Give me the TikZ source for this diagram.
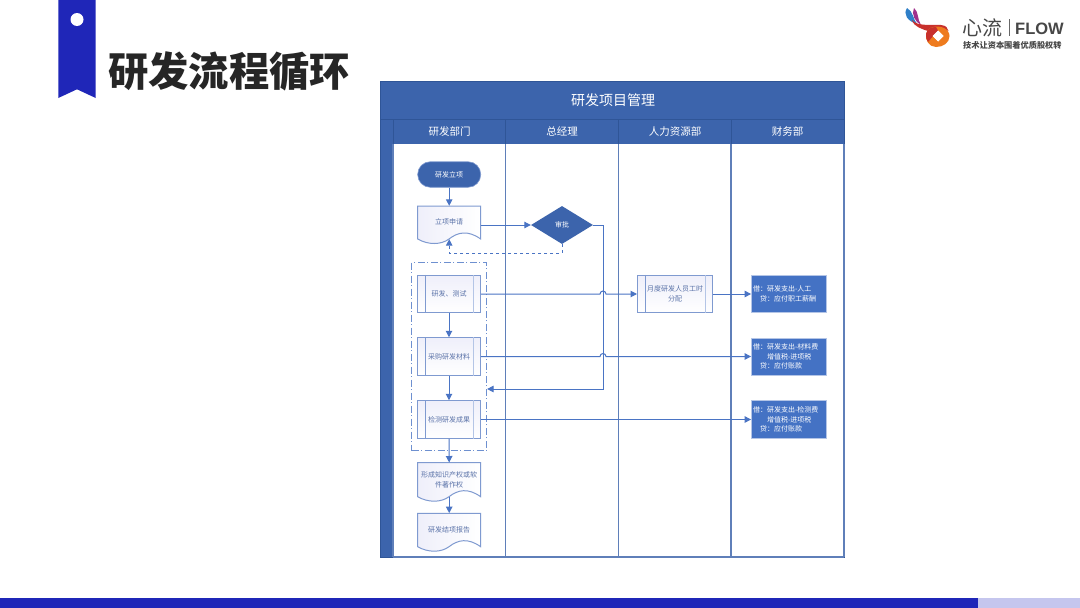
\documentclass[tikz,border=0pt]{standalone}
\usepackage{fontspec}
\setmainfont{Noto Sans CJK SC}
\newfontfamily\latinf{Liberation Sans}
\usetikzlibrary{arrows.meta,calc,shapes.geometric}
\definecolor{band}{HTML}{3C64AC}
\definecolor{bandline}{HTML}{2F5597}
\definecolor{lane}{HTML}{5F7FB9}
\definecolor{flow}{HTML}{4A74C4}
\definecolor{flowfill}{HTML}{4472C4}
\definecolor{edge}{HTML}{7F9AD0}
\definecolor{edgelight}{HTML}{B4C5E6}
\definecolor{nodetext}{HTML}{5A72A8}
\definecolor{ribbon}{HTML}{1F26B8}
\definecolor{ribbonlight}{HTML}{C5C6EE}
\definecolor{dark}{HTML}{262626}
\definecolor{logoblue}{HTML}{2F7FC8}
\definecolor{logopurple}{HTML}{A0308C}
\definecolor{logored}{HTML}{C8302C}
\definecolor{logoorange}{HTML}{EE7B1E}
\newcommand{\fs}[1]{\fontsize{#1}{#1}\selectfont}
\tikzset{
  flowline/.style={draw=flow,line width=1pt,-{Triangle[length=6.5pt,width=6.5pt]}},
  dashline/.style={flowline,dashed},
  lanehead/.style={text=white,font=\fs{10.5}},
  boxtext/.style={text=nodetext,font=\fs{7}\linespread{1.45}\selectfont,align=center,inner sep=0pt},
  procbox/.style={boxtext,draw=edge,line width=1pt,minimum width=63pt,minimum height=37.5pt,
     shading=axis,left color=ribbonlight!28!white,right color=white,shading angle=0},
  blackbox/.style={fill=flowfill,draw=edgelight,line width=0.8pt,text=white,minimum width=75pt,minimum height=37.5pt,
     font=\fs{7}\linespread{1.35}\selectfont,align=left,inner sep=0pt,text width=72pt},
  docfill/.style={draw=edge,line width=1pt,left color=ribbonlight!28!white,right color=white},
}
\newcommand{\procnode}[4]{%
  \node[procbox,minimum width=#4] (#1) at (#2) {#3};
  \draw[edge,line width=0.8pt] ($(#1.north west)+(8,0)$) -- ($(#1.south west)+(8,0)$);
  \draw[edgelight,line width=1.6pt] ($(#1.north east)+(-7.5,0)$) -- ($(#1.south east)+(-7.5,0)$);
}
\newcommand{\docnode}[4]{%
  \path[docfill,draw] (417.7,#2) -- (480.7,#2) -- (480.7,#2+#3)
     .. controls (468,#2+#3-9) and (458,#2+#3-7) .. (449,#2+#3)
     .. controls (441,#2+#3+6) and (428,#2+#3+6) .. (417.7,#2+#3) -- cycle;
  \node[boxtext,minimum width=63pt,minimum height=#3 pt] (#1) at (449.2,#2+#3/2) {\raisebox{2pt}{\parbox{60pt}{\centering #4}}};
}
\begin{document}
\begin{tikzpicture}[x=1pt,y=-1pt]
\useasboundingbox (0,0) rectangle (1080,608);
\fill[white] (0,0) rectangle (1080,608);
% ribbon and title
\fill[ribbon] (58.3,0) -- (95.7,0) -- (95.7,98) -- (77,89.3) -- (58.3,98) -- cycle;
\fill[white] (77,19.5) circle (6.5);
\node[text=dark,font=\fs{40.3}\bfseries,anchor=west,inner sep=0pt] (title) at (108,71) {研发流程循环};
% bottom bar
\fill[ribbon] (0,598) rectangle (978,608);
\fill[ribbonlight] (978,598) rectangle (1080,608);
% logo
\fill[logopurple] (914,8) .. controls (919,12) and (917,19) .. (921,25) .. controls (915,22) and (911,14) .. (914,8) -- cycle;
\fill[logoblue] (907,8) .. controls (903,14) and (907,21) .. (917,24) .. controls (913,19) and (913,11) .. (907,8) -- cycle;
\fill[logored] (912,20) .. controls (918,27) and (930,24) .. (941,25) .. controls (946,25.5) and (948,28) .. (948.5,31) .. controls (941,27) and (933,28) .. (928,31) .. controls (922,29) and (914,27) .. (912,20) -- cycle;
\fill[logoorange,even odd rule] (931,27.5) .. controls (941,24.5) and (949.5,29) .. (949.5,36) .. controls (949.5,43) and (943,47) .. (936,47) .. controls (929,47) and (925,40) .. (926,34) .. controls (926.5,31) and (928,29) .. (931,27.5) -- cycle
  (938,30.5) -- (943.5,36) -- (938,41.5) -- (932.5,36) -- cycle;
\fill[logored] (931,27.5) .. controls (928,29) and (926.5,31) .. (926,34) .. controls (925.7,37) and (926.5,40) .. (928,42) -- (933,36) -- (938,30.5) -- (936,27) -- cycle;
\fill[white] (938,30.5) -- (943.5,36) -- (938,41.5) -- (932.5,36) -- cycle;
\node[text=dark!85,font=\fs{20},anchor=west,inner sep=0pt] (logoa) at (962,28) {心流};
\fill[dark!70] (1008.6,19) rectangle (1009.4,36);
\node[text=dark!85,font=\fs{16.5}\latinf\bfseries,anchor=west,inner sep=0pt] (logob) at (1015,28.5) {FLOW};
\node[text=dark!85,font=\fs{8.2}\bfseries,anchor=west,inner sep=0pt] (logoc) at (963,45) {技术让资本围着优质股权转};
% swimlane frame
\fill[band] (380,81) rectangle (844,144);
\fill[band] (380,119) rectangle (393,557);
\draw[bandline,line width=0.8pt] (380,81) rectangle (844,557);
\draw[bandline,line width=0.8pt] (380,119) -- (844,119);
\draw[lane,line width=1.1pt] (393,144) -- (393,557) (393,557) -- (844,557);
\foreach \lx in {505.5,618.5,731,844} \draw[lane,line width=1.1pt] (\lx,144) -- (\lx,557);
\foreach \lx in {393,505.5,618.5,731} \draw[bandline,line width=0.8pt] (\lx,119) -- (\lx,144);
\node[text=white,font=\fs{14}] (maintitle) at (613,100) {研发项目管理};
\node[lanehead] (l1) at (449.5,131.5) {研发部门};
\node[lanehead] (l2) at (562,131.5) {总经理};
\node[lanehead] (l3) at (675,131.5) {人力资源部};
\node[lanehead] (l4) at (787.5,131.5) {财务部};
% group
\node[draw=flow!80!white,line width=0.8pt,dash pattern=on 7pt off 2.5pt on 1pt off 2.5pt,minimum width=75pt,minimum height=188pt,inner sep=0pt] (group) at (449.2,356.5) {};
% nodes
\node[fill=band,draw=edge,line width=0.6pt,rounded corners=12.5pt,minimum width=63pt,minimum height=25.5pt,text=white,font=\fs{7},inner sep=0pt] (start) at (449.2,174.5) {研发立项};
\docnode{doc1}{206}{33}{立项申请}
\node[diamond,aspect=1.63,fill=band,text=white,font=\fs{7},inner sep=0pt,minimum width=62pt,minimum height=38pt] (appr) at (562,225) {审批};
\procnode{p1}{449,294}{研发、测试}{63pt}
\procnode{p2}{449,356.5}{采购研发材料}{63pt}
\procnode{p3}{449,419.5}{检测研发成果}{63pt}
\docnode{doc3}{462.7}{34}{形成知识产权或软\\件著作权}
\docnode{doc4}{513.3}{33.4}{研发结项报告}
\procnode{p5}{675,294}{月度研发人员工时\\分配}{75pt}
\node[blackbox] (b1) at (789,294) {借：研发支出-人工\\\hspace*{7pt}贷：应付职工薪酬};
\node[blackbox] (b2) at (789,356.7) {借：研发支出-材料费\\\hspace*{14pt}增值税-进项税\\\hspace*{7pt}贷：应付账款};
\node[blackbox] (b3) at (789,419.5) {借：研发支出-检测费\\\hspace*{14pt}增值税-进项税\\\hspace*{7pt}贷：应付账款};
% connectors
\draw[flowline] (start) -- (doc1);
\draw[flowline] (doc1.east |- appr.west) -- (appr.west);
\draw[dashline] (appr.south) -- ++(0,9) coordinate (dd) -- (dd -| doc1.south) -- (doc1.south);
\coordinate (turn) at (603,225);
\coordinate (turn2) at (603,389);
\draw[flowline] (appr.east) -- (turn) -- (turn2) -- (group.east |- turn2);
\draw[flowline] (p1) -- (p2);
\draw[flowline] (p2) -- (p3);
\draw[flowline] (p3) -- (doc3);
\draw[flowline] (doc3) -- (doc4);
\draw[flowline] (p1.east) -- (600,294) arc[start angle=180,end angle=360,radius=3] -- (p5.west);
\draw[flowline] (p5) -- (b1);
\draw[flowline] (p2.east) -- (600,356.5) arc[start angle=180,end angle=360,radius=3] -- (b2.west |- p2.east);
\draw[flowline] (p3.east) -- (b3.west |- p3.east);
\end{tikzpicture}
\end{document}
